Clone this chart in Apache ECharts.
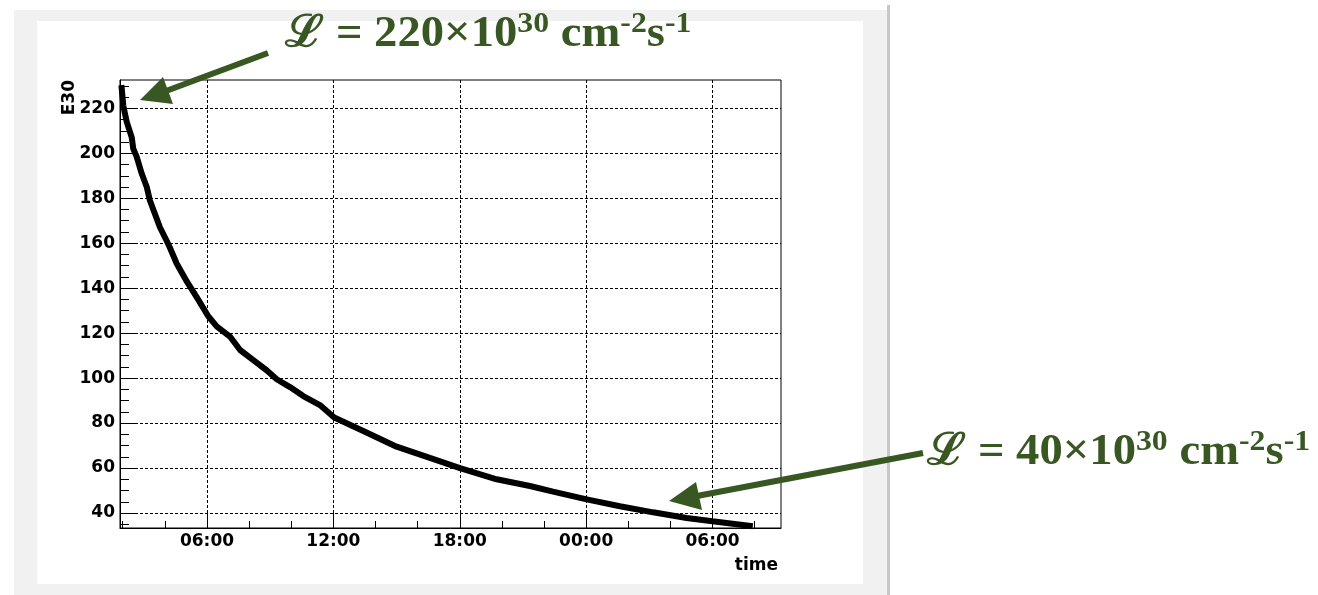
<!DOCTYPE html>
<html>
<head>
<meta charset="utf-8">
<script src="https://cdn.jsdelivr.net/npm/echarts@6/dist/echarts.min.js"></script>
<style>
  html, body { margin: 0; padding: 0; background: #fff; }
  #chart { width: 1318px; height: 595px; }
</style>
</head>
<body>
<div id="chart"></div>
<script>
// time in hours counted from 00:00 of the first day (24 = 00:00 next day)
const timeHours = [1.95, 2.03, 2.19, 2.43, 2.50, 2.66, 2.90, 3.14, 3.29, 3.53,
  3.77, 4.09, 4.24, 4.56, 5.04, 5.51, 6.06, 6.46, 7.09, 7.57,
  8.20, 8.83, 9.31, 9.94, 10.57, 11.36, 12.04, 13.42, 15.00, 16.58,
  18.01, 19.75, 21.33, 22.43, 23.97, 25.60, 27.18, 28.77, 30.00, 31.77]
// luminosity in units of 1e30 cm^-2 s^-1
const lumiE30 = [229, 221, 214, 207, 202, 198.5, 191, 185, 179, 173,
  167, 161, 158, 151, 143, 136, 127.5, 123, 118.5, 112.5,
  108, 103.5, 99.5, 96, 92, 88, 82.5, 76.5, 69.5, 64.5,
  60, 55, 52, 49.5, 46.2, 43, 40.3, 37.8, 36.3, 34.3]

const xMajorHours = [6, 12, 18, 24, 30]
const xTickLabels = ['06:00', '12:00', '18:00', '00:00', '06:00']
const xMinorHours = [2, 4, 8, 10, 14, 16, 20, 22, 26, 28, 32]
const yMajorTicks = [40, 60, 80, 100, 120, 140, 160, 180, 200, 220]
const yMinorTicks = [35, 45, 50, 55, 65, 70, 75, 85, 90, 95, 105, 110, 115,
  125, 130, 135, 145, 150, 155, 165, 170, 175, 185, 190, 195, 205, 210, 215, 225, 230]

const xRange = [1.87, 33.25]
const yRange = [33.33, 232.6]

const green = '#385723'
const axisFont = { fontFamily: 'DejaVu Sans', fontWeight: 'bold', fontSize: 17, color: '#000' }

const chart = echarts.init(document.getElementById('chart'), null, { renderer: 'canvas' })

const lumiRich = {
  m: { fontFamily: 'Liberation Serif', fontWeight: 'bold', fontSize: 44, lineHeight: 48, verticalAlign: 'bottom', fill: green },
  s: { fontFamily: 'Liberation Serif', fontWeight: 'bold', fontSize: 30, lineHeight: 30, verticalAlign: 'top', fill: green }
}
const lumiText = (val) => '{m|ℒ = ' + val + '×10}{s|30}{m| cm}{s|-2}{m|s}{s|-1}'

chart.setOption({
  animation: false,
  backgroundColor: '#fff',
  grid: {
    left: 120, top: 80, width: 661, height: 448,
    show: true, borderColor: '#000', borderWidth: 1,
    backgroundColor: 'transparent'
  },
  xAxis: [
    {
      type: 'value', position: 'bottom', min: xRange[0], max: xRange[1],
      axisLine: { onZero: false, lineStyle: { color: '#000', width: 1 } },
      axisTick: { inside: true, length: 15, customValues: xMajorHours, lineStyle: { color: '#000' } },
      axisLabel: {
        ...axisFont, margin: 5, customValues: xMajorHours,
        formatter: (v) => xTickLabels[xMajorHours.indexOf(v)] || ''
      },
      splitLine: { show: true, lineStyle: { color: '#000', type: [3, 2], width: 1 } }
    },
    {
      type: 'value', position: 'bottom', min: xRange[0], max: xRange[1],
      axisLine: { show: false, onZero: false },
      axisTick: { inside: true, length: 7, customValues: xMinorHours, lineStyle: { color: '#000' } },
      axisLabel: { show: false },
      splitLine: { show: false }
    }
  ],
  yAxis: [
    {
      type: 'value', position: 'left', min: yRange[0], max: yRange[1],
      axisLine: { show: true, onZero: false, lineStyle: { color: '#000', width: 1 } },
      axisTick: { show: true, inside: true, length: 16, customValues: yMajorTicks, lineStyle: { color: '#000' } },
      axisLabel: { ...axisFont, margin: 5, customValues: yMajorTicks },
      splitLine: { show: true, lineStyle: { color: '#000', type: [3, 2], width: 1 } }
    },
    {
      type: 'value', position: 'left', min: yRange[0], max: yRange[1],
      axisLine: { show: false, onZero: false },
      axisTick: { show: true, inside: true, length: 9, customValues: yMinorTicks, lineStyle: { color: '#000' } },
      axisLabel: { show: false },
      splitLine: { show: false }
    }
  ],
  series: [{
    type: 'line',
    xAxisIndex: 0, yAxisIndex: 0,
    data: timeHours.map((t, i) => [t, lumiE30[i]]),
    showSymbol: false,
    lineStyle: { color: '#000', width: 6, cap: 'square' },
    z: 3
  }],
  graphic: [
    // canvas frame
    { type: 'rect', z: -10, silent: true, shape: { x: 14, y: 10, width: 873, height: 600 }, style: { fill: '#f1f1f1' } },
    { type: 'rect', z: -9, silent: true, shape: { x: 37, y: 21, width: 826, height: 563 }, style: { fill: '#fff' } },
    { type: 'rect', z: -9, silent: true, shape: { x: 887, y: 5, width: 3, height: 600 }, style: { fill: '#c8c8c8' } },
    // axis titles
    {
      type: 'text', z: 50, x: 70, y: 80, rotation: Math.PI / 2,
      style: { text: 'E30', align: 'right', verticalAlign: 'middle', font: 'bold 17px "DejaVu Sans"', fill: '#000' }
    },
    {
      type: 'text', z: 50, x: 778, y: 566,
      style: { text: 'time', align: 'right', verticalAlign: 'middle', font: 'bold 17px "DejaVu Sans"', fill: '#000' }
    },
    // annotations
    { type: 'line', z: 60, shape: { x1: 268, y1: 53, x2: 166, y2: 91 }, style: { stroke: green, lineWidth: 6 } },
    { type: 'polygon', z: 60, shape: { points: [[140, 100], [163, 77], [173, 104]] }, style: { fill: green } },
    { type: 'line', z: 60, shape: { x1: 923, y1: 453, x2: 697, y2: 496 }, style: { stroke: green, lineWidth: 6 } },
    { type: 'polygon', z: 60, shape: { points: [[669, 501], [696, 482], [702, 510]] }, style: { fill: green } },
    {
      type: 'text', z: 60, x: 285, y: 9, scaleX: 1.06,
      style: { text: lumiText(220), rich: lumiRich, align: 'left', verticalAlign: 'top' }
    },
    {
      type: 'text', z: 60, x: 927, y: 427, scaleX: 1.06,
      style: { text: lumiText(40), rich: lumiRich, align: 'left', verticalAlign: 'top' }
    }
  ]
})

window.addEventListener('resize', () => chart.resize())
</script>
</body>
</html>
